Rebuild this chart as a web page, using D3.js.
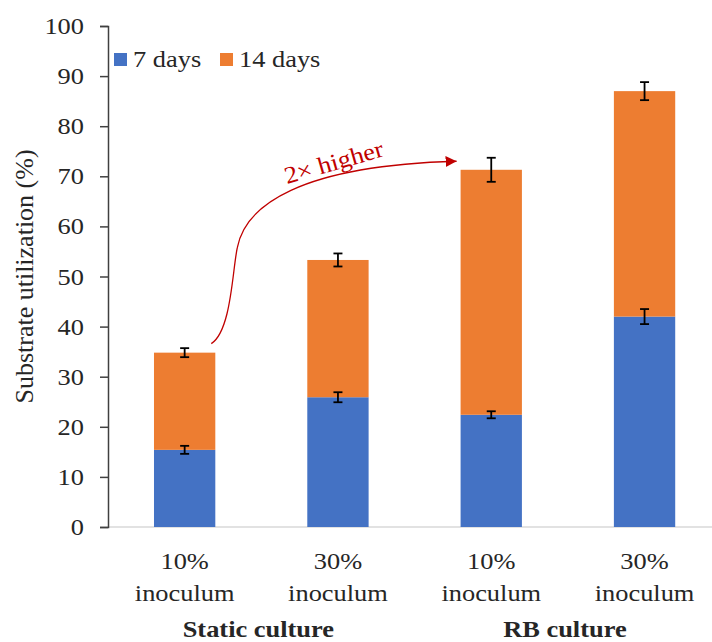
<!DOCTYPE html>
<html>
<head>
<meta charset="utf-8">
<script src="https://cdn.jsdelivr.net/npm/d3@7"></script>
<style>
  body { margin: 0; background: #fff; }
</style>
</head>
<body>
<svg width="712" height="642" font-family="'Liberation Serif', 'Times New Roman', 'DejaVu Serif', serif"></svg>
<script>
const width = 712;
const height = 642;

// Chart data
const categories = ["s10", "s30", "r10", "r30"];
const doseLabels = ["10%", "30%", "10%", "30%"];
const groupLabels = ["Static culture", "RB culture"];
const day7 = [15.4, 25.9, 22.4, 42.0];
const day7Err = [0.8, 1.0, 0.7, 1.5];
const day14 = [34.8, 53.3, 71.3, 87.0];   // cumulative top of stack
const day14Err = [0.9, 1.3, 2.4, 1.8];
const yTicks = [0, 10, 20, 30, 40, 50, 60, 70, 80, 90, 100];
const seriesNames = ["7 days", "14 days"];
const colors = ["#4472C4", "#ED7D31"];

const svg = d3.select("svg");

// scales
const x = d3.scaleBand().domain(categories).range([108, 721.2])
  .paddingInner(0.6).paddingOuter(0.3);
const y = d3.scaleLinear().domain([0, 100]).range([527, 26]);
const bw = x.bandwidth();

// text helper, source text is a bit wide so stretch it horizontally
function label(g, px, py, txt, opts = {}) {
  return g.append("text")
    .attr("transform", `translate(${px},${py}) scale(1.1,1)`)
    .attr("text-anchor", opts.anchor || "middle")
    .attr("font-size", opts.size || 24)
    .attr("font-weight", opts.weight || "normal")
    .attr("fill", "#262626")
    .text(txt);
}

// baseline
svg.append("line")
  .attr("x1", 108).attr("x2", width)
  .attr("y1", y(0)).attr("y2", y(0))
  .attr("stroke", "#d9d9d9").attr("stroke-width", 1.5);

// y axis
const yAxis = svg.append("g")
  .attr("transform", "translate(108,0)")
  .call(d3.axisLeft(y).tickValues(yTicks).tickSize(8).tickFormat(""));
yAxis.select(".domain").attr("stroke", "#404040").attr("stroke-width", 1.5);
yAxis.selectAll(".tick line").attr("stroke", "#404040").attr("stroke-width", 1.5);

const tickG = svg.append("g");
yTicks.forEach(t => label(tickG, 84, y(t) + 8, t, { anchor: "end" }));

// y title
svg.append("text")
  .attr("transform", `translate(33,${y(50)}) rotate(-90)`)
  .attr("text-anchor", "middle")
  .attr("font-size", 26)
  .attr("fill", "#262626")
  .text("Substrate utilization (%)");

// bars
const bars = svg.append("g");
bars.selectAll("rect.d7")
  .data(categories)
  .enter().append("rect")
  .attr("class", "d7")
  .attr("x", d => x(d))
  .attr("width", bw)
  .attr("y", (d, i) => y(day7[i]))
  .attr("height", (d, i) => y(0) - y(day7[i]))
  .attr("fill", colors[0]);

bars.selectAll("rect.d14")
  .data(categories)
  .enter().append("rect")
  .attr("class", "d14")
  .attr("x", d => x(d))
  .attr("width", bw)
  .attr("y", (d, i) => y(day14[i]))
  .attr("height", (d, i) => y(day7[i]) - y(day14[i]))
  .attr("fill", colors[1]);

// error bars
const errs = [];
categories.forEach((c, i) => {
  errs.push({ c, v: day7[i], e: day7Err[i] });
  errs.push({ c, v: day14[i], e: day14Err[i] });
});
const eg = svg.append("g").attr("stroke", "#000").attr("stroke-width", 1.8);
errs.forEach(d => {
  const cx = x(d.c) + bw / 2;
  eg.append("line").attr("x1", cx).attr("x2", cx)
    .attr("y1", y(d.v + d.e)).attr("y2", y(d.v - d.e));
  [d.v + d.e, d.v - d.e].forEach(v => {
    eg.append("line").attr("x1", cx - 4.5).attr("x2", cx + 4.5)
      .attr("y1", y(v)).attr("y2", y(v));
  });
});

// x labels
const xl = svg.append("g");
categories.forEach((c, i) => {
  const cx = x(c) + bw / 2;
  label(xl, cx, 569, doseLabels[i]);
  label(xl, cx, 601, "inoculum");
});
groupLabels.forEach((g, i) => {
  const a = x(categories[i * 2]) + bw / 2;
  const b = x(categories[i * 2 + 1]) + bw / 2;
  label(xl, (a + b) / 2 - 3, 637, g, { weight: "bold" });
});

// legend
const lg = svg.append("g");
seriesNames.forEach((s, i) => {
  const lx = [114, 220][i];
  lg.append("rect").attr("x", lx).attr("y", 53).attr("width", 13).attr("height", 13)
    .attr("fill", colors[i]);
  label(lg, lx + 19, 67, s, { anchor: "start" });
});

// annotation arrow from static 10% to RB 10%
const red = "#C00000";
svg.append("defs").append("marker")
  .attr("id", "head").attr("viewBox", "0 0 10 10")
  .attr("refX", 10).attr("refY", 5)
  .attr("markerWidth", 11).attr("markerHeight", 11)
  .attr("markerUnits", "userSpaceOnUse")
  .attr("orient", "auto")
  .append("path").attr("d", "M0,0 L10,5 L0,10 Z").attr("fill", red);

const x0 = x(categories[0]) + bw - 4, y0 = y(day14[0]) - 9;
const x1 = x(categories[2]) - 4, y1 = y(day14[2] + 1.7);
const p = d3.path();
p.moveTo(x0, y0);
p.bezierCurveTo(x0 + 20, y0 - 13, x0 + 21, y0 - 73, x0 + 26, y0 - 96);
p.bezierCurveTo(x0 + 34, y0 - 138, x0 + 88, y0 - 178, x1, y1);
svg.append("path")
  .attr("d", p.toString())
  .attr("fill", "none").attr("stroke", red).attr("stroke-width", 1.3)
  .attr("marker-end", "url(#head)");

svg.append("text")
  .attr("transform", `translate(336,170) rotate(-16) scale(1.1,1)`)
  .attr("text-anchor", "middle")
  .attr("font-size", 24)
  .attr("fill", red)
  .text("2× higher");
</script>
</body>
</html>
